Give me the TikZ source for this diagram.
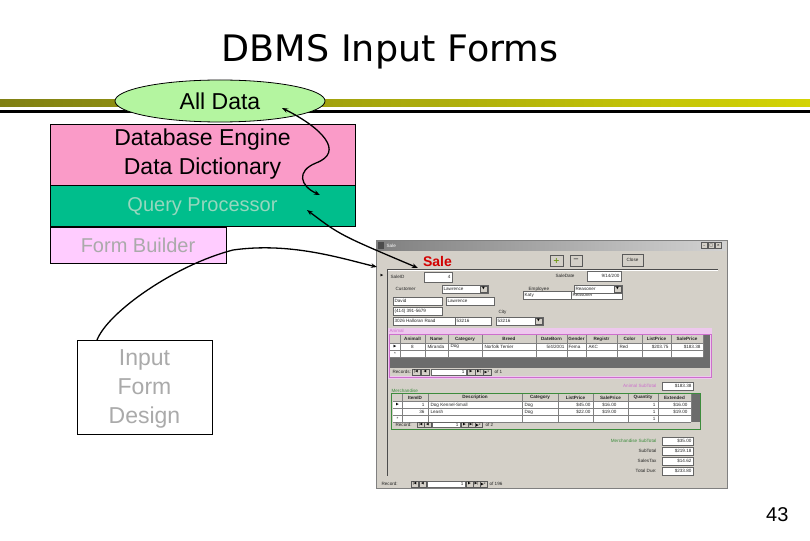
\documentclass[tikz,border=0pt]{standalone}
\usepackage{fontspec}
\setmainfont{Liberation Sans}
\newfontfamily\titlefont{DejaVu Sans}
\newfontfamily\symfont{DejaVu Sans}
\usetikzlibrary{positioning,shapes.geometric,arrows.meta}

\definecolor{barolive}{RGB}{128,128,20}
\definecolor{baryellow}{RGB}{240,240,0}
\definecolor{alldatagreen}{RGB}{180,245,160}
\definecolor{enginepink}{RGB}{250,155,200}
\definecolor{querygreen}{RGB}{0,190,140}
\definecolor{querytext}{RGB}{150,215,190}
\definecolor{builderpink}{RGB}{255,204,255}
\definecolor{greytext}{RGB}{170,170,170}
\definecolor{wingray}{RGB}{212,208,200}
\definecolor{wintitle}{RGB}{128,128,128}
\definecolor{salered}{RGB}{210,0,0}
\definecolor{subpink}{RGB}{238,200,238}
\definecolor{subframe}{RGB}{205,110,205}
\definecolor{merchgreen}{RGB}{60,140,60}

\begin{document}
\begin{tikzpicture}[x=1pt, y=-1pt, >={Stealth[length=6pt,width=4.5pt]},
    every node/.style={font=\fontsize{23}{29}\selectfont},
    layer/.style={draw, line width=0.8pt, inner sep=0pt, align=center},
    ftxt/.style={font=\fontsize{4.6}{5}\selectfont, inner sep=0.4pt, text=black!85},
    fhdr/.style={font=\fontsize{4.6}{5}\selectfont\bfseries, inner sep=0.4pt, text=black!85},
    fbox/.style={draw=gray!80!black, fill=white, line width=0.4pt},
    fbtn/.style={draw=gray!70!black, fill=wingray, line width=0.4pt, inner sep=0pt},
    fsym/.style={font=\symfont\fontsize{3.6}{4}\selectfont},
    link/.style={line width=1.3pt}]
  \fill[white] (0,0) rectangle (810,540);
  \useasboundingbox (0,0) rectangle (810,540);

  % title and rule
  \node[font=\titlefont\fontsize{36.5}{42}\selectfont, anchor=base] (title) at (390,62) {DBMS Input Forms};
  \shade[left color=barolive, middle color=baryellow, right color=baryellow!75!barolive] (0,100) rectangle (810,107);
  \fill[black] (0,110) rectangle (810,113);

  % layers
  \node[ellipse, draw, line width=0.8pt, fill=alldatagreen, minimum width=210, minimum height=42, inner sep=0pt] (alldata) at (220,101) {All Data};
  \node[layer, fill=enginepink, minimum width=305, minimum height=61] (engine) at (202.5,154.5) {Database Engine\\Data Dictionary};
  \node[layer, fill=querygreen, text=querytext, minimum width=305, minimum height=41, font=\fontsize{20}{24}\selectfont, below=0pt of engine] (query) {Query Processor};
  \node[layer, fill=builderpink, text=greytext, minimum width=176, minimum height=36, font=\fontsize{20}{24}\selectfont, below right=0pt and 0pt of query.south west] (builder) {Form Builder};
  \node[layer, fill=white, text=greytext, minimum width=135, minimum height=94, text depth=-3pt] (design) at (144.5,387) {Input\\Form\\Design};

  % the Sale form
  \node[draw=gray, fill=wingray, line width=0.6pt, minimum width=351, minimum height=248, inner sep=0pt, anchor=north west] (form) at (376,240) {};
  \shade[left color=wintitle, right color=wintitle!35] (377,241) rectangle (726,250);
  \fill[black!70] (378,242) rectangle (384,249);
  \node[ftxt, text=white, anchor=west] (formtitle) at (386,245.5) {Sale};
  \foreach \bx/\g [count=\i] in {701/\_,708/□,715/×}
    \node[fbtn, fsym, minimum width=6.5, minimum height=6] (winbtn\i) at ({\bx+3.25},245.5) {\g};
  \node[font=\bfseries\fontsize{14}{16}\selectfont, text=salered, inner sep=0pt] (salehead) at (437.5,261) {Sale};
  \node[fbtn, minimum width=13, minimum height=11, font=\symfont\bfseries\fontsize{8}{8}\selectfont, text=olive!60!green] (addbtn) at (556.5,260.5) {+};
  \node[fbtn, minimum width=12, minimum height=11, font=\symfont\bfseries\fontsize{7}{7}\selectfont, text=black!70] (delbtn) at (576,260.5) {−};
  \node[fbtn, ftxt, minimum width=21, minimum height=12] (closebtn) at (632.5,260) {Close};
  \draw[gray!60!black, line width=0.5pt] (388,269) -- (718,269);
  \draw[white, line width=0.5pt] (388,270) -- (718,270);
  \draw[gray!60!black, line width=0.8pt] (387,269) -- (387,476);
  \node[fsym, inner sep=0pt] (cursel) at (382,276) {▶};

  % fields
  \foreach \t/\px/\py [count=\i] in {SaleID/390/277, SaleDate/555/276, Customer/395/289, Employee/528/289, City/498/312}
    \node[ftxt, anchor=west] (lbl\i) at (\px,\py) {\t};
  \foreach \xa/\ya/\xb/\yb/\t [count=\i] in {393/297/442/305/David, 446/297/494/305/Lawrence, 523/291/571/299/Katy,
      571/291/622/299/Reasoner, 393/307/442/315/(414) 391-5679, 393/317/455/325/3026 Halloran Road, 455/317/491/325/53216,
      442/285/488/293/Lawrence, 574/285/622/293/Reasoner, 496/317/543/325/53216} {
    \draw[fbox] (\xa,\ya) rectangle (\xb,\yb);
    \node[ftxt, anchor=west] (fld\i) at ({\xa+1},{(\ya+\yb)/2}) {\t};
  }
  \foreach \bx/\by [count=\i] in {480/289, 614/289, 535/321}
    \node[fbtn, fsym, minimum width=7, minimum height=6] (drop\i) at ({\bx+3.5},\by) {▼};
  \foreach \xa/\ya/\xb/\yb/\t [count=\i] in {424/272/452/282/4, 587/271/621/281/{9/14/200}, 662/382/693/390/\$183.38,
      662/437/693/445/\$35.00, 662/447/693/455/\$219.18, 662/457/693/465/\$14.62, 662/467/693/475/\$233.80} {
    \draw[fbox] (\xa,\ya) rectangle (\xb,\yb);
    \node[ftxt, anchor=east] (val\i) at ({\xb-1},{(\ya+\yb)/2}) {\t};
  }
  \node[ftxt, anchor=east, text=subframe] (animtot) at (657,386) {Animal SubTotal};
  \node[ftxt, anchor=east, text=merchgreen] (merchtot) at (657,441) {Merchandise SubTotal};
  \foreach \t/\py [count=\i] in {SubTotal/451, SalesTax/461, Total Due:/471}
    \node[ftxt, anchor=east] (tot\i) at (657,\py) {\t};

  % animal subform
  \fill[subpink] (388,328) rectangle (712,379);
  \node[ftxt, anchor=west, text=subframe] (animlbl) at (389,331) {Animal};
  \fill[gray!85!black] (390,335) rectangle (710,368);
  \fill[white] (390,343) rectangle (703,357);
  \fill[wingray] (390,335) rectangle (703,343);
  \fill[wingray] (390,368) rectangle (710,376);
  \draw[subframe, line width=0.8pt] (389,334) rectangle (711,377.5);
  \foreach \hy in {343,350,357}
    \draw[gray, line width=0.3pt] (390,\hy) -- (703,\hy);
  \foreach \a/\b/\t [count=\i] in {400/425/AnimalI, 425/448/Name, 448/482/Category, 482/536/Breed, 536/567/DateBorn,
      567/586/Gender, 586/617/Registr, 617/642/Color, 642/671/ListPrice, 671/703/SalePrice} {
    \draw[gray, line width=0.3pt] (\a,335) -- (\a,357);
    \node[fhdr] (ahd\i) at ({(\a+\b)/2},339) {\t};
  }
  \draw[gray, line width=0.3pt] (703,335) -- (703,357);
  \node[fsym] (asel) at (395,346.5) {▶};
  \node[ftxt] (anew) at (395,353.8) {*};
  \node[ftxt] (arow1) at (412.5,346.5) {8};
  \foreach \t/\px [count=\i] in {Miranda/427, Dog/450, Norfolk Terrier/484, Fema/568, AKC/588, Red/619}
    \node[ftxt, anchor=west] (arw\i) at (\px,346.5) {\t};
  \foreach \t/\px [count=\i] in {{5/4/2001}/565, \$203.75/669, \$183.38/701}
    \node[ftxt, anchor=east] (are\i) at (\px,346.5) {\t};
  \node[ftxt, anchor=west] (anav) at (392,372) {Records:};
  \foreach \bx/\g [count=\i] in {412/{|◀},421/◀,467/▶,475/{▶|},483/{▶*}}
    \node[fbtn, fsym, minimum width=8, minimum height=6.5] (anavb\i) at ({\bx+4},372) {\g};
  \draw[fbox] (431,369) rectangle (466,375);
  \node[ftxt, anchor=east] (anavn) at (465,372) {1};
  \node[ftxt, anchor=west] (anavof) at (494,372) {of 1};

  % merchandise subform
  \node[ftxt, anchor=west, text=merchgreen] (merchlbl) at (391,390.5) {Merchandise};
  \fill[gray!85!black] (393,394) rectangle (700,422);
  \fill[white] (393,401.5) rectangle (691,422);
  \fill[wingray] (393,394) rectangle (691,401.5);
  \fill[wingray] (393,422) rectangle (699,428);
  \draw[merchgreen, line width=0.5pt] (391,393) rectangle (700,429);
  \foreach \hy in {401.5,408.5,415.2,422}
    \draw[gray, line width=0.3pt] (393,\hy) -- (691,\hy);
  \foreach \a/\b/\t [count=\i] in {402/428/ItemID, 428/522/Description, 522/558/Category, 558/593/ListPrice,
      593/628/SalePrice, 628/658/Quantity, 658/691/Extended} {
    \draw[gray, line width=0.3pt] (\a,394) -- (\a,422);
    \node[fhdr] (mhd\i) at ({(\a+\b)/2},397.8) {\t};
  }
  \draw[gray, line width=0.3pt] (691,394) -- (691,422);
  \node[fsym] (msel) at (397.5,405) {▶};
  \node[ftxt] (mnew) at (397.5,418.8) {*};
  \foreach \ry/\id/\d/\lp/\sp/\ex [count=\i] in {405/1/Dog Kennel-Small/\$45.00/\$16.00/\$16.00, 412/36/Leash/\$22.00/\$19.00/\$19.00} {
    \node[ftxt, anchor=east] (mid\i) at (425,\ry) {\id};
    \node[ftxt, anchor=west] (mde\i) at (430,\ry) {\d};
    \node[ftxt, anchor=west] (mca\i) at (524,\ry) {Dog};
    \node[ftxt, anchor=east] (mlp\i) at (591,\ry) {\lp};
    \node[ftxt, anchor=east] (msp\i) at (617,\ry) {\sp};
    \node[ftxt, anchor=east] (mqu\i) at (656,\ry) {1};
    \node[ftxt, anchor=east] (mex\i) at (688,\ry) {\ex};
  }
  \node[ftxt, anchor=east] (mqu3) at (656,418.5) {1};
  \node[ftxt, anchor=west] (mnav) at (395,425) {Record:};
  \foreach \bx/\g [count=\i] in {417/{|◀},424/◀,461/▶,468/{▶|},475/{▶*}}
    \node[fbtn, fsym, minimum width=7, minimum height=5] (mnavb\i) at ({\bx+3.5},425) {\g};
  \draw[fbox] (432,422.5) rectangle (460,427.5);
  \node[ftxt, anchor=east] (mnavn) at (459,425) {1};
  \node[ftxt, anchor=west] (mnavof) at (485,425) {of 2};

  % form records bar
  \node[ftxt, anchor=west] (fnav) at (381,484) {Record:};
  \foreach \bx/\g [count=\i] in {411/{|◀},419/◀,466/▶,473/{▶|},480/{▶*}}
    \node[fbtn, fsym, minimum width=7, minimum height=6.5] (fnavb\i) at ({\bx+3.5},484) {\g};
  \draw[fbox] (427,480.8) rectangle (465,487.2);
  \node[ftxt, anchor=east] (fnavn) at (464,484) {1};
  \node[ftxt, anchor=west] (fnavof) at (489,484) {of 196};

  % connectors
  \coordinate (dataend) at (282,108);
  \coordinate (queryend) at (320,195);
  \coordinate (querytip) at (307,210);
  \coordinate (saletip) at (418,268);
  \coordinate (designtip) at (97,340);
  \coordinate (formtip) at (377,267);
  \draw[link, <->] (dataend) .. controls (322,128) and (345,152) .. (316,163) .. controls (296,171) and (300,186) .. (queryend);
  \draw[link, <->] (querytip) .. controls (340,235) .. (saletip);
  \draw[link, ->] (designtip) .. controls (108,312) and (175,265) .. (233,250) .. controls (290,242) and (340,258) .. (formtip);

  \node[font=\fontsize{20}{24}\selectfont, anchor=base east] (pagenum) at (792,521) {43};
\end{tikzpicture}
\end{document}
